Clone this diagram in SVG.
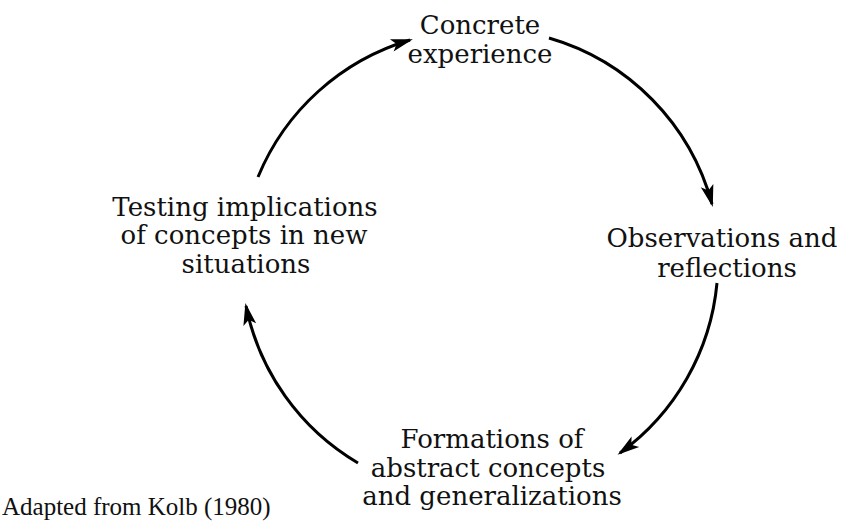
<svg xmlns="http://www.w3.org/2000/svg" width="846" height="529" viewBox="0 0 846 529">
  <style>
    .lbl { font-family: "DejaVu Serif", "Liberation Serif", serif; font-size: 26px; fill: #111; text-anchor: middle; }
    .note { font-family: "Liberation Serif", "Times New Roman", serif; font-size: 25px; fill: #111; }
    .arc { fill: none; stroke: #000; stroke-width: 3; marker-end: url(#head); }
  </style>
  <defs>
    <marker id="head" markerUnits="userSpaceOnUse" markerWidth="26" markerHeight="16" viewBox="-24 -8 26 16" refX="-3" refY="0" orient="auto">
      <path d="M0,0 L-22,-6.5 L-17,0 L-22,6.5 Z" fill="#000"/>
    </marker>
  </defs>

  <!-- cycle connectors -->
  <g id="connectors">
    <path class="arc" d="M258,177 A237,237 0 0 1 410,40"/>
    <path class="arc" d="M549,38 A237,237 0 0 1 712,204"/>
    <path class="arc" d="M717,283 A237,237 0 0 1 620,453"/>
    <path class="arc" d="M358,463 A237,237 0 0 1 246,306"/>
  </g>

  <g id="concrete-experience">
    <text class="lbl" x="480" y="34">Concrete</text>
    <text class="lbl" x="480" y="63">experience</text>
  </g>

  <g id="observations-reflections">
    <text class="lbl" x="722" y="247">Observations and</text>
    <text class="lbl" x="727" y="277">reflections</text>
  </g>

  <g id="abstract-concepts">
    <text class="lbl" x="492" y="448">Formations of</text>
    <text class="lbl" x="488" y="477">abstract concepts</text>
    <text class="lbl" x="492" y="505">and generalizations</text>
  </g>

  <g id="testing-implications">
    <text class="lbl" x="245" y="216">Testing implications</text>
    <text class="lbl" x="244" y="244">of concepts in new</text>
    <text class="lbl" x="246" y="273">situations</text>
  </g>

  <text class="note" x="2" y="515">Adapted from Kolb (1980)</text>
</svg>
